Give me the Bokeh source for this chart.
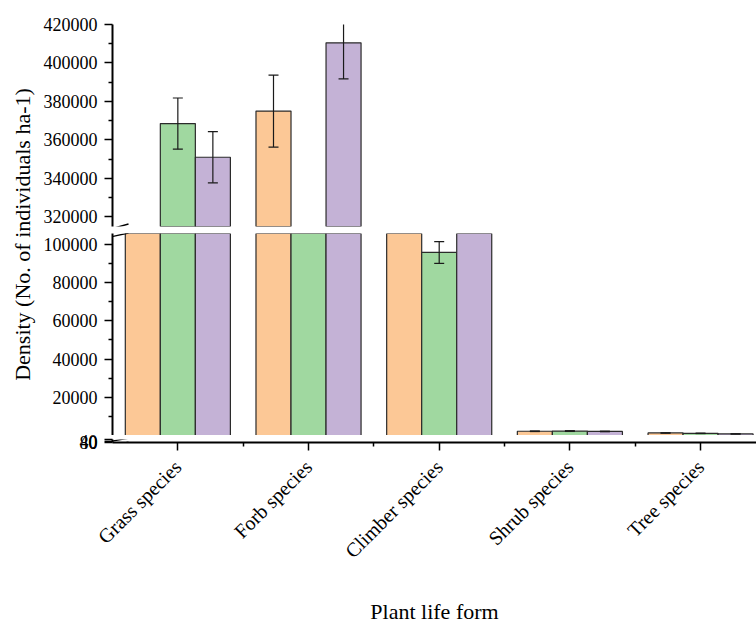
import numpy as np
from bokeh.plotting import figure
from bokeh.layouts import row, column
from bokeh.models import (ColumnDataSource, Range1d, FixedTicker, CDSView,
                          BooleanFilter, BasicTickFormatter, Label, Arrow)
from bokeh.embed import file_html
from bokeh.resources import INLINE

# ---- data -------------------------------------------------------------
categories = ["Grass species", "Forb species", "Climber species",
              "Shrub species", "Tree species"]

density_a = [290000, 375000, 130000, 2300, 1400]
error_a = [13000, 18700, 6000, 150, 100]

density_b = [368500, 280000, 95600, 2400, 1200]
error_b = [13300, 18000, 5700, 200, 100]

density_c = [351000, 410500, 125000, 2200, 900]
error_c = [13300, 18800, 6000, 150, 80]

# axis segments of the broken y axis (low, high)
upper_segment = (315000, 420000)
middle_segment = (80, 105500)
lower_segment = (0, 80)

upper_ticks = [320000, 340000, 360000, 380000, 400000, 420000]
upper_minor = [330000, 350000, 370000, 390000, 410000]
middle_ticks = [20000, 40000, 60000, 80000, 100000]
middle_minor = [10000, 30000, 50000, 70000, 90000]
lower_ticks = [0, 40, 80]

# ---- styling ------------------------------------------------------------
FONT = "Liberation Serif"
BAR_W = 0.268
X_START, X_END = -0.5, 4.428
FRAME_W = 644
LEFT_BORDER = 72
STRIP_W = 40
colors = ["#FCC896", "#A0D8A0", "#C4B2D6"]
offsets = [-BAR_W, 0.0, BAR_W]

series = [(density_a, error_a), (density_b, error_b), (density_c, error_c)]
idx = np.arange(len(categories))


def style_y_axis(p, ticks, minor):
    ax = p.yaxis[0]
    ax.ticker = FixedTicker(ticks=ticks, minor_ticks=minor)
    ax.formatter = BasicTickFormatter(use_scientific=False)
    ax.axis_line_width = 2
    ax.axis_line_color = "black"
    ax.major_tick_line_color = "black"
    ax.major_tick_line_width = 1.5
    ax.minor_tick_line_color = "black"
    ax.minor_tick_line_width = 1.5
    ax.major_tick_out = 8
    ax.major_tick_in = 0
    ax.minor_tick_out = 4
    ax.minor_tick_in = 0
    ax.major_label_text_font = FONT
    ax.major_label_text_font_size = "18px"
    ax.major_label_text_color = "black"
    ax.major_label_standoff = 7
    return ax


def segment_figure(seg, frame_h, top_border, bottom_border, show_x=False):
    p = figure(frame_width=FRAME_W, frame_height=frame_h,
               x_range=Range1d(X_START, X_END), y_range=Range1d(*seg),
               min_border_left=LEFT_BORDER, min_border_right=0,
               min_border_top=top_border, min_border_bottom=bottom_border,
               x_axis_location="below" if show_x else None,
               toolbar_location=None, output_backend="svg", title=None)
    p.outline_line_color = None
    p.grid.visible = False
    p.background_fill_color = "white"
    p.border_fill_color = "white"
    return p


def draw_bars(p, floor):
    """Bars and error bars of every series that reach into this segment."""
    for (vals, errs), color, off in zip(series, colors, offsets):
        v = np.asarray(vals, dtype=float)
        e = np.asarray(errs, dtype=float)
        src = ColumnDataSource(dict(x=idx + off, top=v, upper=v + e, lower=v - e))
        bar_view = CDSView(filter=BooleanFilter([bool(t > floor) for t in v]))
        err_view = CDSView(filter=BooleanFilter([bool(u > floor) for u in v + e]))
        p.vbar(x="x", top="top", bottom=0, width=BAR_W, source=src, view=bar_view,
               fill_color=color, line_color="#2b2b2b", line_width=1.2)
        p.segment(x0="x", y0="lower", x1="x", y1="upper", source=src, view=err_view,
                  line_color="#1a1a1a", line_width=1.2)
        for end in ("upper", "lower"):
            p.scatter(x="x", y=end, source=src, view=err_view, marker="dash",
                      size=10, line_color="#1a1a1a", line_width=1.2)


def break_stroke(p, seg, frame_h, y_value, dy_px, half_w=16, half_rise=4.5):
    """Short slanted stroke crossing the y axis, marking an axis break."""
    xres = (X_END - X_START) / FRAME_W
    yres = (seg[1] - seg[0]) / frame_h
    yc = y_value + dy_px * yres
    p.add_layout(Arrow(end=None, start=None,
                       x_start=X_START - half_w * xres, y_start=yc - half_rise * yres,
                       x_end=X_START + half_w * xres, y_end=yc + half_rise * yres,
                       line_color="black", line_width=1.4))


# ---- upper segment --------------------------------------------------------
top_h = 202
top = segment_figure(upper_segment, top_h, 24, 7)
draw_bars(top, upper_segment[0])
style_y_axis(top, upper_ticks, upper_minor)
break_stroke(top, upper_segment, top_h, upper_segment[0], -2)

# ---- middle segment -------------------------------------------------------
mid_h = 202
mid = segment_figure(middle_segment, mid_h, 0, 0)
draw_bars(mid, middle_segment[0])
style_y_axis(mid, middle_ticks, middle_minor)
break_stroke(mid, middle_segment, mid_h, middle_segment[1], -3, half_rise=3.5)

# ---- lowest segment with the category axis --------------------------------
low_h = 3
bot = segment_figure(lower_segment, low_h, 4, 184, show_x=True)
low_ax = style_y_axis(bot, lower_ticks, [])
low_ax.major_label_text_baseline = "top"
break_stroke(bot, lower_segment, low_h, 40, 0, half_rise=2.8)
break_stroke(bot, lower_segment, low_h, 0, -2.7, half_rise=3)

xa = bot.xaxis[0]
xa.ticker = FixedTicker(ticks=[int(i) for i in idx],
                        minor_ticks=[float(i) + 0.5 for i in idx[:-1]])
xa.major_label_overrides = {int(i): c for i, c in zip(idx, categories)}
xa.major_label_orientation = np.pi / 4
xa.axis_line_width = 2
xa.axis_line_color = "black"
xa.major_tick_line_color = "black"
xa.major_tick_line_width = 1.5
xa.minor_tick_line_color = "black"
xa.minor_tick_line_width = 1.5
xa.major_tick_out = 8
xa.major_tick_in = 0
xa.minor_tick_out = 4
xa.minor_tick_in = 0
xa.major_label_text_font = FONT
xa.major_label_text_font_size = "20px"
xa.major_label_text_color = "black"
xa.major_label_standoff = 13
xa.axis_label = "Plant life form"
xa.axis_label_text_font = FONT
xa.axis_label_text_font_size = "22px"
xa.axis_label_text_font_style = "normal"
xa.axis_label_text_color = "black"
xa.axis_label_standoff = 26

# ---- y axis title strip -------------------------------------------------
total_h = 626
strip = figure(frame_width=STRIP_W, frame_height=total_h,
               x_range=Range1d(0, STRIP_W), y_range=Range1d(total_h, 0),
               min_border=0, x_axis_location=None, y_axis_location=None,
               toolbar_location=None, output_backend="svg", title=None)
strip.outline_line_color = None
strip.grid.visible = False
strip.add_layout(Label(x=22, y=234, text="Density (No. of individuals ha-1)",
                       angle=np.pi / 2, text_align="center",
                       text_baseline="middle", text_font=FONT,
                       text_font_size="22px", text_color="black"))

layout = row(strip, column(top, mid, bot, spacing=0), spacing=0)

with open("out.html", "w") as f:
    f.write(file_html(layout, INLINE))
